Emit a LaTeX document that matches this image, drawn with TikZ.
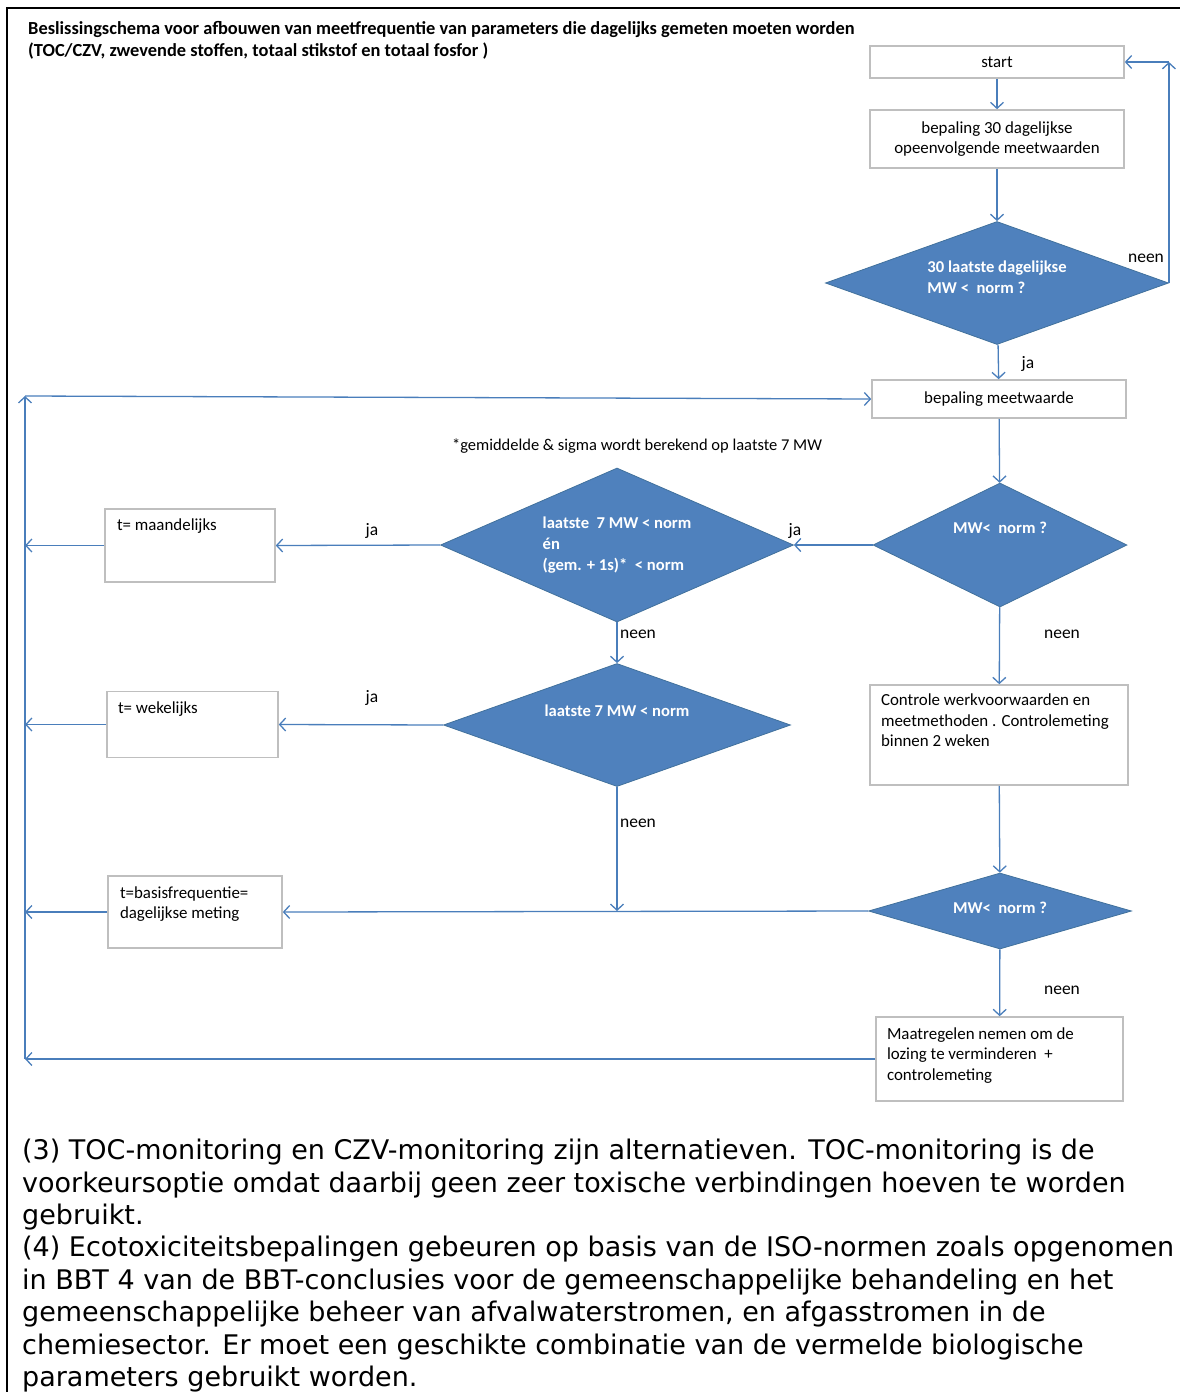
\documentclass[tikz,border=0pt]{standalone}
\usepackage{fontspec}
\setmainfont{Carlito}
\newfontfamily\notefont{DejaVu Sans}
\usepackage{tikz}
\usetikzlibrary{positioning,shapes.geometric,arrows.meta}

\definecolor{flowblue}{HTML}{4F81BD}
\definecolor{flowedge}{HTML}{41719C}
\definecolor{linkblue}{HTML}{4A7EBB}
\definecolor{boxgray}{HTML}{BFBFBF}

\newcommand{\toptext}[3]{\parbox[c][#2][t]{#1}{\raggedright #3}}

\begin{document}
\begin{tikzpicture}[x=1pt,y=-1pt,
        >={Straight Barb[length=6pt,width=13pt]},
        flow/.style={draw=linkblue,line width=1.3pt},
        procbox/.style={draw=boxgray,line width=1.6pt,fill=white,inner sep=0pt,font=\fontsize{16.9}{20.5}\selectfont},
        decision/.style={diamond,draw=flowedge,fill=flowblue,line width=0.8pt,inner sep=0pt,text=white,align=left,font=\bfseries\fontsize{16.6}{21}\selectfont},
        lbl/.style={inner sep=0pt,font=\fontsize{17.5}{20}\selectfont}]
                \useasboundingbox (0,0) rectangle (1180,1392);
                \draw[line width=2.2pt] (7,1392) -- (7,8) -- (1180,8);
                \node[anchor=north west,inner sep=0pt,align=left,font=\bfseries\fontsize{18.4}{22}\selectfont] (title) at (28,21) {Beslissingschema voor afbouwen van meetfrequentie van parameters die dagelijks gemeten moeten worden\\(TOC/CZV, zwevende stoffen, totaal stikstof en totaal fosfor )};
                \node[procbox,minimum width=254pt,minimum height=32pt] (start) at (997,62) {start};
                \node[procbox,minimum width=254pt,minimum height=58pt,align=center] (b30) at (997,139) {bepaling 30 dagelijkse\\opeenvolgende meetwaarden};
                \node[decision,minimum width=343pt,minimum height=123pt,aspect=2.8,text height=21pt,text depth=21pt] (d30) at (997,283) {\begin{tabular}{@{}l@{}}30 laatste dagelijkse\\MW <~~norm ?\end{tabular}};
                \node[procbox,minimum width=254pt,minimum height=38pt] (bmw) at (999,399) {bepaling meetwaarde};
                \node[lbl,font=\fontsize{16.5}{20}\selectfont] (note) at (637,446) {*gemiddelde \& sigma wordt berekend op laatste 7 MW};
                \node[decision,minimum width=254pt,minimum height=124pt,aspect=2,text height=12pt,text depth=36pt] (dmw) at (1000,545) {MW<~~norm ?};
                \node[decision,minimum width=353pt,minimum height=154pt,aspect=2.3] (d7s) at (617,545) {laatste~~7 MW < norm\\én\\(gem. + 1s)*~~< norm};
                \node[procbox,minimum width=170pt,minimum height=73pt,inner xsep=12pt,inner ysep=10pt] (maand) at (190,545.5) {\toptext{146pt}{53pt}{t= maandelijks}};
                \node[decision,minimum width=347pt,minimum height=123pt,aspect=2.8,text height=12pt,text depth=30pt] (d7) at (617,725) {laatste 7 MW < norm};
                \node[procbox,minimum width=171pt,minimum height=66pt,inner xsep=11pt,inner ysep=10pt] (week) at (192.5,724.5) {\toptext{149pt}{46pt}{t= wekelijks}};
                \node[procbox,minimum width=258pt,minimum height=100pt,inner xsep=11pt,inner ysep=9pt] (ctrl) at (999,735) {\toptext{236pt}{82pt}{Controle werkvoorwaarden en\\meetmethoden . Controlemeting\\binnen 2 weken}};
                \node[decision,minimum width=263pt,minimum height=76pt,aspect=3.5,text height=12pt,text depth=7pt] (dmw2) at (1000,911) {MW<~~norm ?};
                \node[procbox,minimum width=174pt,minimum height=72pt,inner xsep=12pt,inner ysep=10.5pt] (basis) at (195,912) {\toptext{150pt}{51pt}{t=basisfrequentie=\\dagelijkse meting}};
                \node[procbox,minimum width=247pt,minimum height=84pt,inner xsep=11pt,inner ysep=10.5pt] (maat) at (999.5,1059) {\toptext{225pt}{63pt}{Maatregelen nemen om de\\lozing te verminderen~~+\\controlemeting}};
                \coordinate (loopR) at (d30.east |- start.east);
                \coordinate (loopB) at (25,1059);
                \coordinate (loopT) at (25,396);
                \draw[flow,->] (start) -- (b30);
                \draw[flow,->] (b30) -- (d30);
                \draw[flow,->] (d30.east) -- (loopR);
                \draw[flow,->] (loopR) -- (start.east);
                \draw[flow,->] (d30) -- (bmw);
                \draw[flow,->] (bmw) -- (dmw);
                \draw[flow,->] (dmw.west) -- (d7s.east);
                \draw[flow,->] (d7s.west) -- (maand.east);
                \draw[flow,->] (d7s) -- (d7);
                \draw[flow,->] (d7.west) -- (week.east);
                \draw[flow,->] (d7.south) -- (d7.south |- dmw2.west);
                \draw[flow,->] (dmw) -- (ctrl);
                \draw[flow,->] (ctrl) -- (dmw2);
                \draw[flow,->] (dmw2.west) -- (basis.east);
                \draw[flow,->] (dmw2) -- (maat);
                \draw[flow,->] (maand.west) -- (maand.west -| loopB);
                \draw[flow,->] (week.west) -- (week.west -| loopB);
                \draw[flow,->] (basis.west) -- (basis.west -| loopB);
                \draw[flow,->] (maat.west) -- (loopB);
                \draw[flow,->] (loopB) -- (loopT);
                \draw[flow,->] (loopT) -- (bmw.west);
                \node[lbl] (neen1) at (1146,258) {neen};
                \node[lbl] (ja1) at (1028,364) {ja};
                \node[lbl] (ja2) at (795,531) {ja};
                \node[lbl] (ja3) at (372,531) {ja};
                \node[lbl] (neen2) at (638,634) {neen};
                \node[lbl] (neen3) at (1062,634) {neen};
                \node[lbl] (ja4) at (372,698) {ja};
                \node[lbl] (neen4) at (638,823) {neen};
                \node[lbl] (neen5) at (1062,990) {neen};
                \node[anchor=north west,inner sep=0pt,align=left,font=\notefont\fontsize{27}{32.4}\selectfont] (notes) at (22,1139) {(3) TOC-monitoring en CZV-monitoring zijn alternatieven. TOC-monitoring is de\\voorkeursoptie omdat daarbij geen zeer toxische verbindingen hoeven te worden\\gebruikt.\\(4) Ecotoxiciteitsbepalingen gebeuren op basis van de ISO-normen zoals opgenomen\\in BBT 4 van de BBT-conclusies voor de gemeenschappelijke behandeling en het\\gemeenschappelijke beheer van afvalwaterstromen, en afgasstromen in de\\chemiesector. Er moet een geschikte combinatie van de vermelde biologische\\parameters gebruikt worden.};
            \end{tikzpicture}
\end{document}
